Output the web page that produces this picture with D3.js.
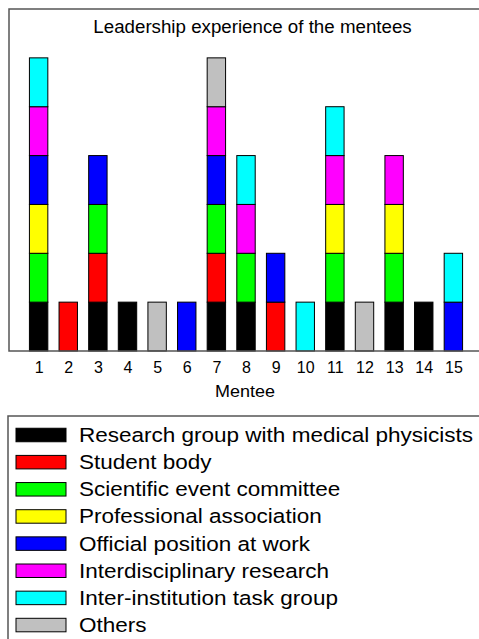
<!DOCTYPE html>
<html><head><meta charset="utf-8">
<script src="https://cdn.jsdelivr.net/npm/d3@7"></script>
<style>body{margin:0;background:#fff;} text{font-family:"Liberation Sans",Arial,sans-serif;}</style>
</head><body>
<svg id="c" width="479" height="639"></svg>
<script>
const mentees = ["1","2","3","4","5","6","7","8","9","10","11","12","13","14","15"];
const categories = ["Research group with medical physicists","Student body","Scientific event committee","Professional association","Official position at work","Interdisciplinary research","Inter-institution task group","Others"];
const colors = ["#000000","#ff0000","#00ff00","#ffff00","#0000ff","#ff00ff","#00ffff","#c0c0c0"];
const research      = [1,0,1,1,0,0,1,1,0,0,1,0,1,1,0];
const student       = [0,1,1,0,0,0,1,0,1,0,0,0,0,0,0];
const scientific    = [1,0,1,0,0,0,1,1,0,0,1,0,1,0,0];
const professional  = [1,0,0,0,0,0,0,0,0,0,1,0,1,0,0];
const official      = [1,0,1,0,0,1,1,0,1,0,0,0,0,0,1];
const interdisc     = [1,0,0,0,0,0,1,1,0,0,1,0,1,0,0];
const interinst     = [1,0,0,0,0,0,0,1,0,1,1,0,0,0,1];
const others        = [0,0,0,0,1,0,1,0,0,0,0,1,0,0,0];
const series = [research,student,scientific,professional,official,interdisc,interinst,others];
const title = "Leadership experience of the mentees";
const xLabel = "Mentee";

const svg = d3.select("#c");
const L=9, R=483, T=9, B=351;
const x = d3.scaleLinear().domain([0,16]).range([L,R]);
const y = d3.scaleLinear().domain([0,7]).range([B,T]);
const barW = 18.4;

const table = mentees.map((m,i)=>{const o={m}; categories.forEach((c,j)=>o[c]=series[j][i]); return o;});
const stack = d3.stack().keys(categories)(table);

const g = svg.append("g");
stack.forEach((s,j)=>{
  g.selectAll(null).data(s.filter(d=>d[1]>d[0])).enter().append("rect")
   .attr("x",d=>x(+d.data.m)-barW/2).attr("width",barW)
   .attr("y",d=>y(d[1])).attr("height",d=>y(d[0])-y(d[1]))
   .attr("fill",colors[j]).attr("stroke","#000").attr("stroke-width",1);
});

svg.append("rect").attr("x",L).attr("y",T).attr("width",R-L).attr("height",B-T)
  .attr("fill","none").attr("stroke","#555").attr("stroke-width",1.5);

const ax = svg.append("g").attr("transform",`translate(0,${B})`)
  .call(d3.axisBottom(x).tickValues(mentees.map(Number)).tickSize(0).tickPadding(0).tickFormat(d=>String(d)));
ax.select(".domain").remove();
ax.selectAll("text").attr("dy",null).attr("y",22).attr("font-size",16).attr("fill","#000")
  .style("font-family","Liberation Sans, Arial, sans-serif");

function stretched(parent, tx, ty, sx, size, str, anchor){
  parent.append("g").attr("transform",`translate(${tx},${ty}) scale(${sx},1)`)
    .append("text").attr("text-anchor",anchor||"start").attr("font-size",size).attr("fill","#000").text(str);
}
stretched(svg, 245, 397, 1.125, 16, xLabel, "middle");
stretched(svg, 252.5, 32.5, 1.07, 17.5, title, "middle");

// legend
svg.append("rect").attr("x",8).attr("y",416).attr("width",480).attr("height",240).attr("fill","none").attr("stroke","#555").attr("stroke-width",1.5);
const lg = svg.append("g");
categories.forEach((c,j)=>{
  const cy = 435 + j*27.15;
  lg.append("rect").attr("x",16).attr("y",cy-6.75).attr("width",50).attr("height",13.5)
    .attr("fill",colors[j]).attr("stroke","#000").attr("stroke-width",1);
  stretched(lg, 79, cy+7, 1.155, 19.5, c, "start");
});
</script>
</body></html>
